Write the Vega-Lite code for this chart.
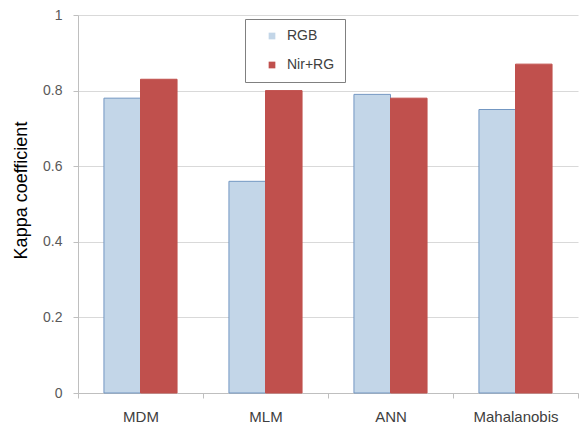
{
  "$schema": "https://vega.github.io/schema/vega-lite/v6.json",
  "width": 500,
  "height": 378,
  "autosize": {"type": "none"},
  "padding": {"left": 78, "top": 15, "right": 2, "bottom": 50},
  "background": "white",
  "config": {
    "font": "Liberation Sans",
    "view": {"stroke": null}
  },
  "data": {
    "values": [
      {"method": "MDM", "series": "RGB", "kappa": 0.78},
      {"method": "MDM", "series": "Nir+RG", "kappa": 0.83},
      {"method": "MLM", "series": "RGB", "kappa": 0.56},
      {"method": "MLM", "series": "Nir+RG", "kappa": 0.80},
      {"method": "ANN", "series": "RGB", "kappa": 0.79},
      {"method": "ANN", "series": "Nir+RG", "kappa": 0.78},
      {"method": "Mahalanobis", "series": "RGB", "kappa": 0.75},
      {"method": "Mahalanobis", "series": "Nir+RG", "kappa": 0.87}
    ]
  },
  "mark": {"type": "bar", "strokeWidth": 1},
  "encoding": {
    "x": {
      "field": "method",
      "type": "nominal",
      "sort": ["MDM", "MLM", "ANN", "Mahalanobis"],
      "scale": {"paddingInner": 0, "paddingOuter": 0},
      "axis": {
        "title": null,
        "labelAngle": 0,
        "labelFontSize": 15,
        "labelColor": "#404040",
        "labelPadding": 11,
        "tickBand": "extent",
        "tickSize": 5,
        "tickColor": "#bfbfbf",
        "domainColor": "#bfbfbf",
        "grid": false
      }
    },
    "xOffset": {
      "field": "series",
      "type": "nominal",
      "sort": ["RGB", "Nir+RG"],
      "scale": {"paddingInner": 0, "paddingOuter": 0.71}
    },
    "y": {
      "field": "kappa",
      "type": "quantitative",
      "scale": {"domain": [0, 1]},
      "axis": {
        "title": "Kappa coefficient",
        "titleFontSize": 18,
        "titleFontWeight": "normal",
        "titleColor": "#000000",
        "titlePadding": 12,
        "titleY": 175,
        "values": [0, 0.2, 0.4, 0.6, 0.8, 1],
        "labelExpr": "datum.value == 0 ? '0' : datum.value == 1 ? '1' : format(datum.value, '.1f')",
        "labelFontSize": 14,
        "labelColor": "#595959",
        "labelPadding": 11,
        "tickSize": 5,
        "tickColor": "#bfbfbf",
        "domainColor": "#bfbfbf",
        "gridColor": "#d9d9d9"
      }
    },
    "color": {
      "field": "series",
      "type": "nominal",
      "sort": ["RGB", "Nir+RG"],
      "scale": {"domain": ["RGB", "Nir+RG"], "range": ["#c3d6e8", "#c0504d"]},
      "legend": {
        "title": null,
        "orient": "none",
        "legendX": 167,
        "legendY": 4,
        "direction": "vertical",
        "symbolType": "square",
        "symbolSize": 45,
        "symbolOffset": 10,
        "symbolStrokeWidth": 0,
        "labelFontSize": 14,
        "labelColor": "#404040",
        "labelOffset": 8,
        "rowPadding": 15,
        "padding": 10,
        "strokeColor": "#808080",
        "fillColor": "white",
        "labelLimit": 200
      }
    },
    "stroke": {
      "field": "series",
      "type": "nominal",
      "scale": {"domain": ["RGB", "Nir+RG"], "range": ["#7397c2", "#c0504d"]},
      "legend": null
    }
  }
}
